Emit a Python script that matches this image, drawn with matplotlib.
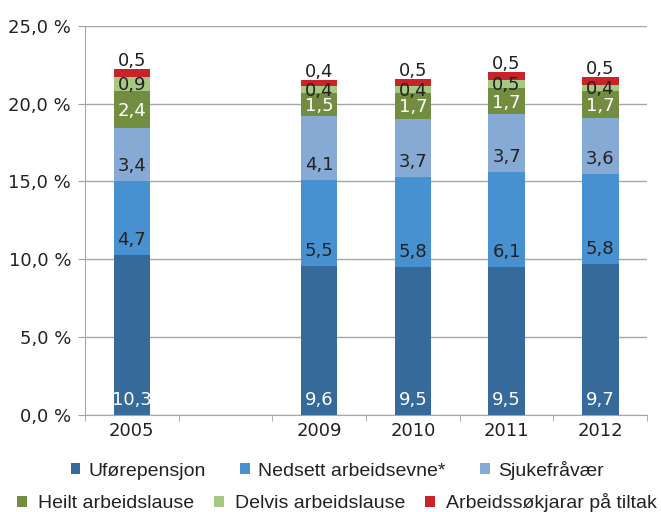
import numpy as np
import matplotlib
matplotlib.use("Agg")
import matplotlib.pyplot as plt

years = ["2005", "2009", "2010", "2011", "2012"]
slots = [0, 2, 3, 4, 5]  # 2005, empty slot, 2009..2012

series_names = ["Uførepensjon", "Nedsett arbeidsevne*", "Sjukefråvær",
                "Heilt arbeidslause", "Delvis arbeidslause", "Arbeidssøkjarar på tiltak"]
ufore = [10.3, 9.6, 9.5, 9.5, 9.7]
nedsett = [4.7, 5.5, 5.8, 6.1, 5.8]
sjuke = [3.4, 4.1, 3.7, 3.7, 3.6]
heilt = [2.4, 1.5, 1.7, 1.7, 1.7]
delvis = [0.9, 0.4, 0.4, 0.5, 0.4]
tiltak = [0.5, 0.4, 0.5, 0.5, 0.5]

colors = ["#366a9b", "#4891d0", "#86aad4", "#728d3f", "#a5c883", "#c9232a"]
label_colors = ["white", "#222222", "#222222", "white", "#222222", "#222222"]
# where the value label sits: base, mid or top
label_pos = ["base", "base", "base", "mid", "mid", "top"]

fig = plt.figure(figsize=(6.61, 5.12), dpi=100)
ax = fig.add_axes([0.1286, 0.189, 0.8504, 0.761])

data = [ufore, nedsett, sjuke, heilt, delvis, tiltak]
bottom = np.zeros(len(years))
handles = []
for vals, name, col, lc, lp in zip(data, series_names, colors, label_colors, label_pos):
    vals = np.array(vals)
    b = ax.bar(slots, vals, width=0.39, bottom=bottom, color=col, label=name, zorder=3)
    handles.append(b)
    for x, v, b0 in zip(slots, vals, bottom):
        txt = f"{v:.1f}".replace(".", ",")
        if lp == "base":
            ax.annotate(txt, (x, b0), xytext=(0, 10.8), textcoords="offset points",
                        ha="center", va="center", color=lc, fontsize=13, zorder=4)
        elif lp == "mid":
            ax.annotate(txt, (x, b0 + v / 2), xytext=(0, -1), textcoords="offset points",
                        ha="center", va="center", color=lc, fontsize=13, zorder=4)
        else:
            ax.annotate(txt, (x, b0 + v), xytext=(0, 5.8), textcoords="offset points",
                        ha="center", va="center", color=lc, fontsize=13, zorder=4)
    bottom = bottom + vals

ax.set_ylim(0, 25)
ax.set_xlim(-0.5, 5.5)
ax.set_yticks(np.arange(0, 26, 5))
ax.set_yticklabels([f"{v:.1f} %".replace(".", ",") for v in np.arange(0, 26, 5)], fontsize=13)
ax.set_xticks(slots)
ax.set_xticklabels(years, fontsize=13)
ax.set_xticks(np.arange(-0.5, 6, 1), minor=True)
ax.tick_params(axis="x", which="major", length=0, pad=5)
ax.tick_params(axis="x", which="minor", length=4, direction="out")
ax.tick_params(axis="y", length=5, pad=5)
ax.tick_params(labelcolor="#222222", which="both")
ax.tick_params(axis="x", which="minor", color="#a0a0a0")
ax.tick_params(axis="y", color="#a0a0a0")
ax.grid(axis="y", color="#a6a6a6", linewidth=1, zorder=0)
for s in ["top", "right"]:
    ax.spines[s].set_visible(False)
for s in ["left", "bottom"]:
    ax.spines[s].set_color("#a6a6a6")

legfont = {"family": ["Liberation Sans", "DejaVu Sans"], "size": 14}
leg1 = fig.legend(handles[:3], series_names[:3], loc="center", bbox_to_anchor=(0.51, 0.082),
                  ncol=3, frameon=False, prop=legfont, handlelength=0.5, handleheight=0.5,
                  handletextpad=0.4, columnspacing=1.8)
leg2 = fig.legend(handles[3:], series_names[3:], loc="center", bbox_to_anchor=(0.51, 0.018),
                  ncol=3, frameon=False, prop=legfont, handlelength=0.5, handleheight=0.5,
                  handletextpad=0.6, columnspacing=1.0)
for leg in (leg1, leg2):
    for t in leg.get_texts():
        t.set_color("#222222")

fig.savefig("out.png", dpi=100)
